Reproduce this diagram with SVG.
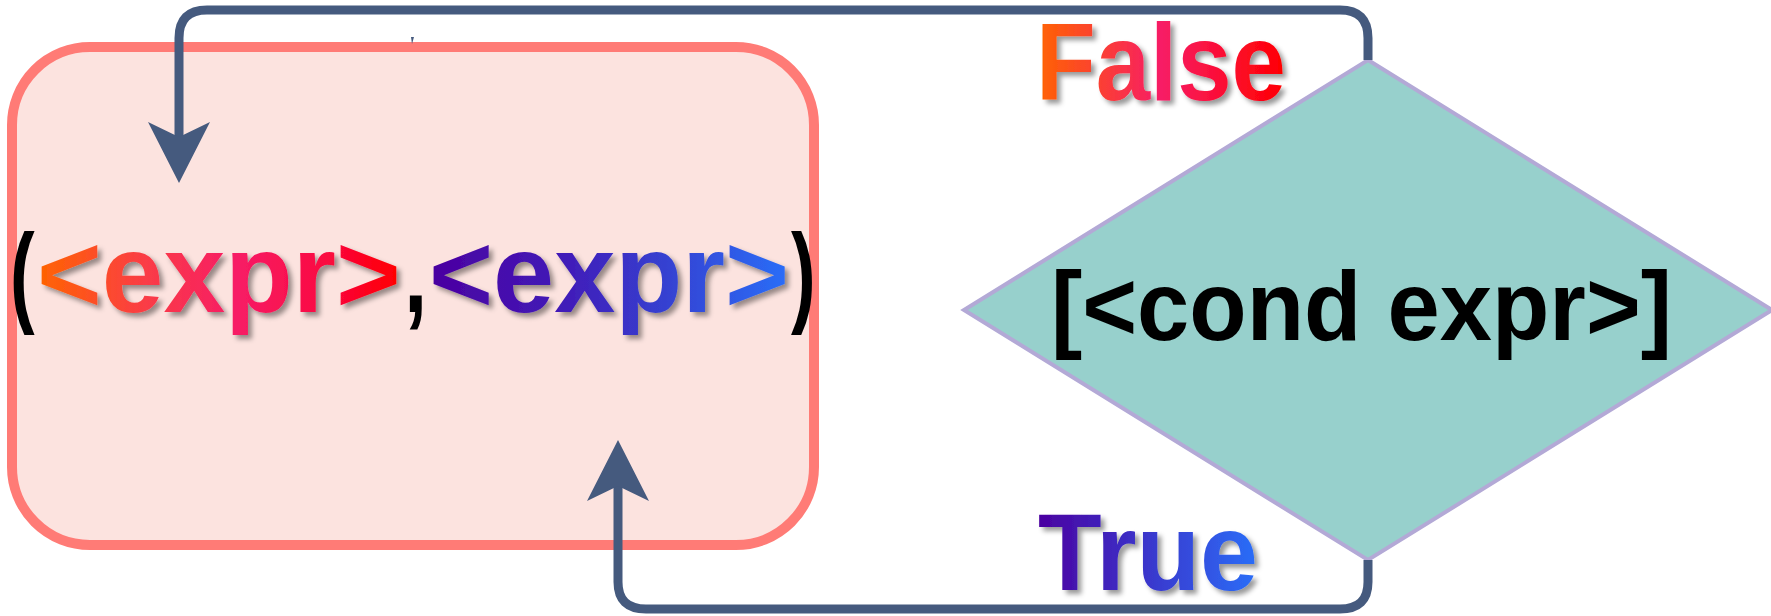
<svg xmlns="http://www.w3.org/2000/svg" width="1771" height="616" viewBox="0 0 1771 616">
  <defs>
    <style>
      .conn { fill: none; stroke: #455A7E; stroke-width: 9; stroke-linecap: butt; }
      .big { font-family: "Liberation Sans", Arial, sans-serif; font-weight: bold; }
      .shadow { filter: url(#drop); }
    </style>
    <filter id="drop" x="-5%" y="-10%" width="110%" height="130%">
      <feDropShadow dx="4" dy="4" stdDeviation="2.5" flood-color="#000" flood-opacity="0.4"/>
    </filter>
    <marker id="stealth" markerUnits="userSpaceOnUse" viewBox="0 -35 64 70" refX="15" refY="0" markerWidth="64" markerHeight="70" orient="auto">
      <path d="M61,0 L0,-31 L15,0 L0,31 Z" fill="#455A7E"/>
    </marker>
    <linearGradient id="warm1" gradientUnits="userSpaceOnUse" x1="0" y1="0" x2="367" y2="0">
      <stop offset="0" stop-color="#FF6400"/>
      <stop offset="0.3" stop-color="#FA3C46"/>
      <stop offset="0.55" stop-color="#F71C66"/>
      <stop offset="0.8" stop-color="#FA0840"/>
      <stop offset="1" stop-color="#FF0000"/>
    </linearGradient>
    <linearGradient id="cool1" gradientUnits="userSpaceOnUse" x1="0" y1="0" x2="367" y2="0">
      <stop offset="0" stop-color="#4A00A0"/>
      <stop offset="0.35" stop-color="#4218B6"/>
      <stop offset="0.65" stop-color="#3640D0"/>
      <stop offset="1" stop-color="#2A6EF8"/>
    </linearGradient>
    <linearGradient id="warm2" gradientUnits="userSpaceOnUse" x1="1036" y1="0" x2="1286" y2="0">
      <stop offset="0" stop-color="#FF6400"/>
      <stop offset="0.5" stop-color="#F71C66"/>
      <stop offset="1" stop-color="#FF0000"/>
    </linearGradient>
    <linearGradient id="cool2" gradientUnits="userSpaceOnUse" x1="1038" y1="0" x2="1258" y2="0">
      <stop offset="0" stop-color="#4A00A0"/>
      <stop offset="1" stop-color="#2A6EF8"/>
    </linearGradient>
  </defs>

  <rect width="1771" height="616" fill="#FFFFFF"/>

  <!-- tuple node -->
  <g id="tuple">
    <rect x="12" y="47" width="802" height="498" rx="78" ry="78" fill="#FCE3DF" stroke="#FF7B76" stroke-width="10"/>
    <g class="big" font-size="112">
      <text transform="translate(10,312) scale(0.66,1)" fill="#000">(</text>
      <text class="shadow" transform="translate(37,312) scale(0.99,1)" fill="url(#warm1)">&lt;expr&gt;</text>
      <text transform="translate(404,312) scale(0.75,1)" fill="#000">,</text>
      <text class="shadow" transform="translate(429,312) scale(0.98,1)" fill="url(#cool1)">&lt;expr&gt;</text>
      <text transform="translate(791,312) scale(0.66,1)" fill="#000">)</text>
    </g>
  </g>

  <!-- condition node -->
  <g id="condition">
    <polygon points="1368,60 1772,310 1368,560 964,310" fill="#97D0CC" stroke="#B3A9D6" stroke-width="4"/>
    <text class="big" x="1051" y="340" font-size="98" fill="#000" textLength="621" lengthAdjust="spacingAndGlyphs">[&lt;cond expr&gt;]</text>
  </g>

  <!-- connectors -->
  <g id="connectors">
    <path class="conn" d="M1368,60 V38 Q1368,10 1340,10 H207 Q179,10 179,38 V137" marker-end="url(#stealth)"/>
    <path class="conn" d="M1368,560 V582 Q1368,609 1340,609 H646 Q618,609 618,582 V486" marker-end="url(#stealth)"/>
    <path d="M411,37 L414,37 L412,44 Z" fill="#455A7E"/>
  </g>

  <!-- branch labels -->
  <g id="label-false">
    <text class="big shadow" x="1036" y="100" font-size="109" fill="url(#warm2)" textLength="250" lengthAdjust="spacingAndGlyphs">False</text>
  </g>
  <g id="label-true">
    <text class="big shadow" x="1038" y="590" font-size="109" fill="url(#cool2)" textLength="220" lengthAdjust="spacingAndGlyphs">True</text>
  </g>
</svg>
